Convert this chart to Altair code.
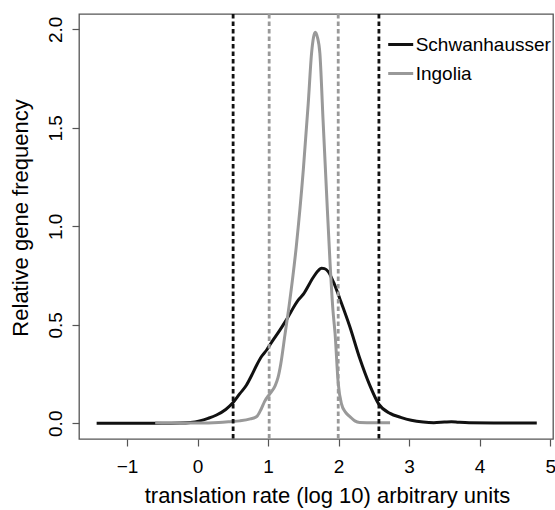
import altair as alt
import pandas as pd

# Schwanhausser density curve
sch_x = [-1.43, -1.0, -0.5, -0.25, -0.1, 0.03, 0.15, 0.27, 0.4, 0.505, 0.6, 0.695, 0.77, 0.84,
         0.91, 0.98, 1.03, 1.17, 1.26, 1.43, 1.5, 1.64, 1.7, 1.76, 1.8, 1.853, 1.93, 2.02, 2.16,
         2.30, 2.44, 2.57, 2.73, 2.88, 3.03, 3.2, 3.35, 3.5, 3.6, 3.7, 3.85, 4.2, 4.5, 4.81]
sch_y = [0.0, 0.0, 0.0, 0.001, 0.004, 0.012, 0.025, 0.042, 0.07, 0.105, 0.15, 0.194, 0.245, 0.296,
         0.34, 0.372, 0.4, 0.474, 0.525, 0.626, 0.655, 0.74, 0.77, 0.787, 0.785, 0.77, 0.715, 0.63, 0.49,
         0.33, 0.195, 0.097, 0.05, 0.03, 0.015, 0.006, 0.003, 0.006, 0.008, 0.005, 0.002, 0.001, 0.001, 0.001]

# Ingolia density curve
ing_x = [-0.6, -0.3, 0.0, 0.3, 0.46, 0.6, 0.75, 0.84, 0.9, 0.95, 1.03, 1.1, 1.14, 1.18, 1.24, 1.3,
         1.40, 1.50, 1.57, 1.617, 1.645, 1.67, 1.70, 1.735, 1.78, 1.83, 1.877, 1.92, 1.95, 1.995,
         2.04, 2.1, 2.16, 2.23, 2.3, 2.5, 2.73]
ing_y = [0.002, 0.001, 0.001, 0.004, 0.008, 0.012, 0.022, 0.034, 0.07, 0.11, 0.152, 0.19, 0.23, 0.3,
         0.45, 0.6, 0.896, 1.286, 1.624, 1.878, 1.96, 1.985, 1.96, 1.878, 1.54, 1.167, 0.829, 0.575,
         0.457, 0.203, 0.10, 0.055, 0.034, 0.012, 0.004, 0.003, 0.003]

# Cut-off lines
cut_x = [0.505, 2.572, 1.016, 1.995]
cut_set = ["Schwanhausser", "Schwanhausser", "Ingolia", "Ingolia"]

series = ["Schwanhausser", "Ingolia"]
colors = ["#111111", "#999999"]

x_ticks = [-1, 0, 1, 2, 3, 4, 5]
y_ticks = [0.0, 0.5, 1.0, 1.5, 2.0]

curves = pd.concat([
    pd.DataFrame({"x": sch_x, "y": sch_y, "set": "Schwanhausser", "order": range(len(sch_x))}),
    pd.DataFrame({"x": ing_x, "y": ing_y, "set": "Ingolia", "order": range(len(ing_x))}),
], ignore_index=True)
cuts = pd.DataFrame({"x": cut_x, "set": cut_set})

FONT = "Liberation Sans"

color = alt.Color(
    "set:N",
    scale=alt.Scale(domain=series, range=colors),
    sort=series,
    legend=alt.Legend(
        title=None, orient="none", legendX=307.7, legendY=16.5, padding=0,
        symbolType="stroke", symbolSize=625, symbolStrokeWidth=3,
        labelFontSize=19, labelFont=FONT, labelColor="#000", labelOffset=1,
        rowPadding=5,
    ),
)

xscale = alt.Scale(domain=[-1.68, 5.04], nice=False, zero=False)
yscale = alt.Scale(domain=[-0.08, 2.078], nice=False, zero=False)

xaxis = alt.Axis(
    values=x_ticks, format="d", title="translation rate (log 10) arbitrary units", grid=False, domain=False,
    tickSize=7, tickColor="#555", tickWidth=1.2,
    labelFontSize=19, labelFont=FONT, labelColor="#000", labelBaseline="alphabetic", labelPadding=26.5,
    labelFlush=False,
    titleFontSize=22, titleFont=FONT, titleFontWeight="normal", titleColor="#000",
    titleX=248, titleY=63, titleBaseline="alphabetic",
)
yaxis = alt.Axis(
    values=y_ticks, format=".1f", title="Relative gene frequency", grid=False, domain=False,
    tickSize=7, tickColor="#555", tickWidth=1.2,
    labelFontSize=19, labelFont=FONT, labelColor="#000", labelAngle=270,
    labelAlign="center", labelBaseline="alphabetic", labelPadding=10.3, labelFlush=False,
    titleFontSize=22, titleFont=FONT, titleFontWeight="normal", titleColor="#000",
    titleX=-52, titleY=203.5, titleBaseline="alphabetic", titleAngle=270,
)

lines = alt.Chart(curves).mark_line(strokeWidth=3, interpolate="monotone").encode(
    x=alt.X("x:Q", scale=xscale, axis=xaxis),
    y=alt.Y("y:Q", scale=yscale, axis=yaxis),
    color=color,
    detail="set:N",
    order="order:Q",
)

rules = alt.Chart(cuts).mark_rule(strokeWidth=2.8, strokeDash=[4.5, 3]).encode(
    x=alt.X("x:Q", scale=xscale),
    color=alt.Color("set:N", scale=alt.Scale(domain=series, range=colors), legend=None),
)

chart = alt.layer(lines, rules).properties(
    width=474, height=425,
    padding={"left": 79, "top": 14, "right": 2, "bottom": 71},
    autosize=alt.AutoSizeParams(type="none"),
    background="white",
).configure_view(stroke="#555", strokeWidth=1.3)

chart.save("out.html", embed_options={"renderer": "svg", "actions": False})
